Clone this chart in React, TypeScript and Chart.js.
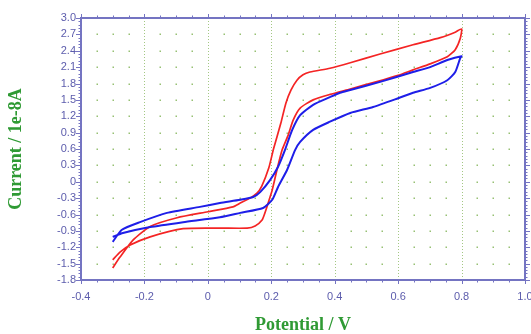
import React, { useEffect, useRef } from 'react';
import { Chart, registerables } from 'chart.js';

Chart.register(...registerables);

// Axis ticks (labels)
const X_TICKS = [-0.4, -0.2, 0, 0.2, 0.4, 0.6, 0.8, 1.0];
const Y_TICKS = [-1.8, -1.5, -1.2, -0.9, -0.6, -0.3, 0, 0.3, 0.6, 0.9, 1.2, 1.5, 1.8, 2.1, 2.4, 2.7, 3.0];

// Red cyclic voltammogram (potential V, current 1e-8 A)
const redX = [-0.300, -0.277, -0.245, -0.182, -0.078, 0.038, 0.124, 0.149, 0.171, 0.180, 0.190, 0.203, 0.218, 0.234, 0.253, 0.269, 0.291, 0.332, 0.385, 0.449, 0.530, 0.600, 0.647, 0.701, 0.755, 0.780, 0.796, 0.800,
  0.780, 0.733, 0.647, 0.543, 0.449, 0.385, 0.322, 0.300, 0.281, 0.262, 0.246, 0.230, 0.207, 0.192, 0.170, 0.155, 0.133, 0.102, 0.079, 0.000, -0.097, -0.182, -0.236, -0.277, -0.300];
const redY = [-1.43, -1.29, -1.16, -1.01, -0.86, -0.85, -0.85, -0.81, -0.70, -0.57, -0.39, -0.15, 0.22, 0.58, 0.85, 1.13, 1.35, 1.50, 1.60, 1.70, 1.83, 1.95, 2.05, 2.16, 2.29, 2.42, 2.63, 2.80,
  2.74, 2.64, 2.51, 2.34, 2.18, 2.08, 2.01, 1.96, 1.86, 1.68, 1.44, 1.07, 0.60, 0.25, -0.08, -0.21, -0.30, -0.39, -0.46, -0.55, -0.66, -0.82, -1.07, -1.38, -1.58];

// Blue cyclic voltammogram
const blueX = [-0.300, -0.268, -0.182, -0.078, 0.038, 0.102, 0.174, 0.203, 0.221, 0.250, 0.275, 0.291, 0.332, 0.385, 0.449, 0.521, 0.600, 0.647, 0.701, 0.755, 0.780, 0.796, 0.800,
  0.755, 0.701, 0.647, 0.543, 0.449, 0.417, 0.385, 0.332, 0.291, 0.266, 0.243, 0.221, 0.196, 0.165, 0.143, 0.102, 0.038, -0.025, -0.129, -0.214, -0.271, -0.300];
const blueY = [-1.01, -0.94, -0.83, -0.74, -0.65, -0.57, -0.48, -0.33, -0.10, 0.22, 0.58, 0.73, 0.95, 1.10, 1.26, 1.37, 1.53, 1.63, 1.72, 1.86, 2.01, 2.27, 2.30,
  2.23, 2.10, 2.01, 1.83, 1.68, 1.63, 1.55, 1.41, 1.22, 0.95, 0.58, 0.27, 0.03, -0.19, -0.28, -0.33, -0.39, -0.46, -0.57, -0.74, -0.88, -1.10];

const X_MIN = -0.4, X_MAX = 1.0, X_MINOR = 0.05, X_MAJOR = 0.2;
const Y_MIN = -1.8, Y_MAX = 3.0, Y_MINOR = 0.06, Y_MAJOR = 0.3;

const FRAME = '#7474c2';
const LABEL = '#5c5cac';
const TITLE = '#2f9a34';
const GRID = 'rgba(140,185,100,0.8)';
const DOT = 'rgba(140,185,100,0.9)';

const fmt = (v: number) => (Math.abs(v) < 1e-9 ? '0' : v.toFixed(1));
const zip = (xs: number[], ys: number[]) => xs.map((x, i) => ({ x, y: ys[i] }));
const isMult = (v: number, step: number) => Math.abs(v / step - Math.round(v / step)) < 1e-6;

const framePlugin = {
  id: 'cvFrame',
  beforeDatasetsDraw(chart: any) {
    const { ctx, chartArea: a, scales } = chart;
    const xs = scales.x, ys = scales.y;
    ctx.save();
    ctx.strokeStyle = GRID;
    ctx.lineWidth = 1;
    ctx.setLineDash([1, 2]);
    for (const v of X_TICKS) {
      if (v <= X_MIN + 1e-9 || v >= X_MAX - 1e-9) continue;
      const px = Math.round(xs.getPixelForValue(v)) + 0.5;
      ctx.beginPath();
      ctx.moveTo(px, a.top);
      ctx.lineTo(px, a.bottom);
      ctx.stroke();
    }
    ctx.setLineDash([]);
    ctx.fillStyle = DOT;
    const nx = Math.round((X_MAX - X_MIN) / X_MINOR);
    for (let i = 1; i < nx; i++) {
      const v = X_MIN + i * X_MINOR;
      if (isMult(v, X_MAJOR)) continue;
      const px = Math.round(xs.getPixelForValue(v));
      for (const w of Y_TICKS) {
        if (w <= Y_MIN + 1e-9 || w >= Y_MAX - 1e-9) continue;
        const py = Math.round(ys.getPixelForValue(w));
        ctx.fillRect(px - 0.5, py - 0.5, 1.5, 1.5);
      }
    }
    ctx.restore();
  },
  afterDatasetsDraw(chart: any) {
    const { ctx, chartArea: a, scales } = chart;
    const xs = scales.x, ys = scales.y;
    ctx.save();
    ctx.strokeStyle = FRAME;
    ctx.lineWidth = 1;
    const nx = Math.round((X_MAX - X_MIN) / X_MINOR);
    for (let i = 0; i <= nx; i++) {
      const v = X_MIN + i * X_MINOR;
      const len = isMult(v, X_MAJOR) ? 4 : 2.5;
      const px = Math.round(xs.getPixelForValue(v)) + 0.5;
      ctx.beginPath();
      ctx.moveTo(px, a.bottom);
      ctx.lineTo(px, a.bottom + len);
      ctx.moveTo(px, a.top);
      ctx.lineTo(px, a.top - len);
      ctx.stroke();
    }
    const ny = Math.round((Y_MAX - Y_MIN) / Y_MINOR);
    for (let i = 0; i <= ny; i++) {
      const w = Y_MIN + i * Y_MINOR;
      const len = isMult(w, Y_MAJOR) ? 5 : 2.5;
      const py = Math.round(ys.getPixelForValue(w)) + 0.5;
      ctx.beginPath();
      ctx.moveTo(a.left, py);
      ctx.lineTo(a.left - len, py);
      ctx.moveTo(a.right, py);
      ctx.lineTo(a.right + len, py);
      ctx.stroke();
    }
    ctx.lineWidth = 2;
    ctx.strokeRect(a.left, a.top, a.right - a.left, a.bottom - a.top);
    ctx.restore();
  },
};

const tickFont = { family: '"Liberation Sans", Arial, sans-serif', size: 11 };
const titleFont = { family: '"Liberation Serif", "Times New Roman", serif', size: 18, weight: 'bold' as const, lineHeight: 1 };

export default function App() {
  const ref = useRef<HTMLCanvasElement | null>(null);
  useEffect(() => {
    if (!ref.current) return;
    const chart = new Chart(ref.current, {
      type: 'scatter',
      data: {
        datasets: [
          {
            label: 'blue',
            data: zip(blueX, blueY),
            showLine: true,
            borderColor: '#1e1ee8',
            borderWidth: 2,
            pointRadius: 0,
            tension: 0.2,
            fill: false,
          },
          {
            label: 'red',
            data: zip(redX, redY),
            showLine: true,
            borderColor: '#f42424',
            borderWidth: 1.7,
            pointRadius: 0,
            tension: 0.2,
            fill: false,
          },
        ],
      },
      options: {
        responsive: false,
        animation: false,
        devicePixelRatio: 1,
        layout: { padding: { left: 0, right: 6, top: 18, bottom: 0 } },
        plugins: { legend: { display: false }, tooltip: { enabled: false } },
        scales: {
          x: {
            type: 'linear',
            min: X_MIN,
            max: X_MAX,
            afterBuildTicks: (s: any) => { s.ticks = X_TICKS.map((v) => ({ value: v })); },
            ticks: { callback: (v: any) => fmt(Number(v)), color: LABEL, font: tickFont, padding: 10, maxRotation: 0, autoSkip: false },
            grid: { display: false, drawTicks: false },
            border: { display: false },
            title: { display: true, text: 'Potential / V', color: TITLE, font: titleFont, padding: { top: 0, bottom: 0 } },
            afterFit: (s: any) => { s.height = 54; s.paddingLeft = 0; s.paddingRight = 0; },
          },
          y: {
            type: 'linear',
            min: Y_MIN,
            max: Y_MAX,
            afterBuildTicks: (s: any) => { s.ticks = Y_TICKS.map((v) => ({ value: v })); },
            ticks: { callback: (v: any) => fmt(Number(v)), color: LABEL, font: tickFont, padding: 5, autoSkip: false },
            grid: { display: false, drawTicks: false },
            border: { display: false },
            title: { display: true, text: 'Current / 1e-8A', color: TITLE, font: titleFont, padding: { top: 7, bottom: 0 } },
            afterFit: (s: any) => { s.width = 81; s.paddingTop = 0; s.paddingBottom = 0; },
          },
        },
      },
      plugins: [framePlugin],
    });
    return () => chart.destroy();
  }, []);
  return (
    <div style={{ position: 'absolute', left: 0, top: 0, width: 531, height: 334, background: '#fff' }}>
      <canvas ref={ref} width={531} height={334} style={{ display: 'block', width: 531, height: 334 }} />
    </div>
  );
}
